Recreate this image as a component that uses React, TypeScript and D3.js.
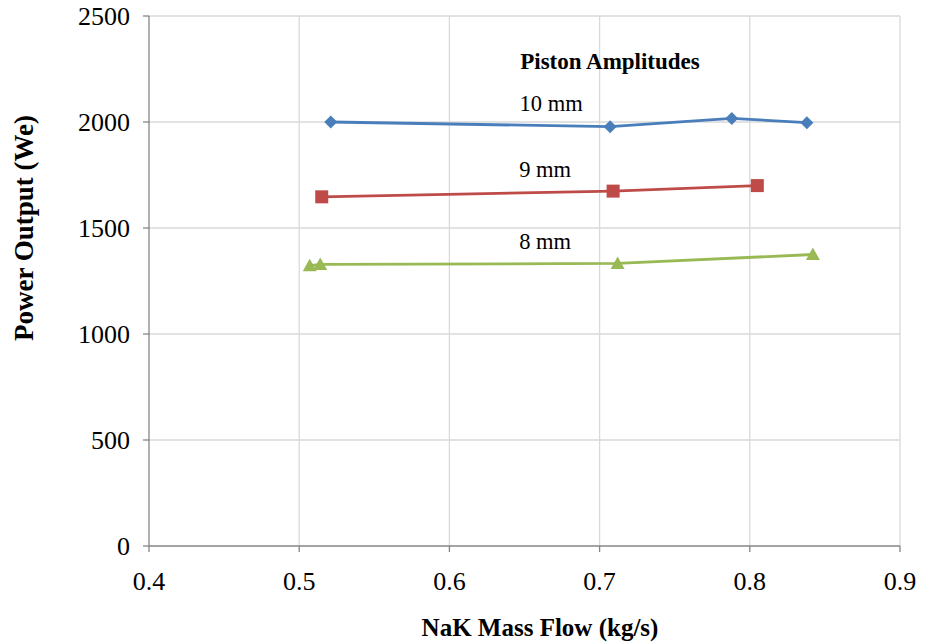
import React from "react";
import * as d3 from "d3";

const xTicks = [0.4, 0.5, 0.6, 0.7, 0.8, 0.9];
const yTicks = [0, 500, 1000, 1500, 2000, 2500];

const flow10 = [0.521, 0.707, 0.788, 0.838];
const power10 = [2000, 1978, 2017, 1997];
const flow9 = [0.515, 0.709, 0.805];
const power9 = [1647, 1674, 1700];
const flow8 = [0.507, 0.514, 0.712, 0.842];
const power8 = [1322, 1328, 1333, 1375];

const seriesNames = ["10 mm", "9 mm", "8 mm"];
const legendTitle = "Piston Amplitudes";

const W = 925, H = 644;
const L = 149, R = 900, T = 16, B = 546;

export default function App() {
  const x = d3.scaleLinear().domain([0.4, 0.9]).range([L, R]);
  const y = d3.scaleLinear().domain([0, 2500]).range([B, T]);
  const line = d3.line<[number, number]>().x(d => x(d[0])).y(d => y(d[1]));

  const series = [
    { name: seriesNames[0], xs: flow10, ys: power10, color: "#4a7ebb", shape: "diamond", lx: 0.6677, ly: 2052 },
    { name: seriesNames[1], xs: flow9, ys: power9, color: "#be4b48", shape: "square", lx: 0.6637, ly: 1741 },
    { name: seriesNames[2], xs: flow8, ys: power8, color: "#98b954", shape: "triangle", lx: 0.6637, ly: 1401 },
  ];

  const fs = { fontFamily: "'Liberation Serif', 'Times New Roman', Times, serif" };

  const marker = (shape: string, cx: number, cy: number, color: string, key: number) => {
    if (shape === "diamond") {
      const s = 6.5;
      return <path key={key} d={`M${cx},${cy - s}L${cx + s},${cy}L${cx},${cy + s}L${cx - s},${cy}Z`} fill={color} />;
    }
    if (shape === "square") {
      const s = 6.5;
      return <rect key={key} x={cx - s} y={cy - s} width={2 * s} height={2 * s} fill={color} />;
    }
    const s = 7;
    return <path key={key} d={`M${cx},${cy - s}L${cx + s},${cy + s * 0.8}L${cx - s},${cy + s * 0.8}Z`} fill={color} />;
  };

  return (
    <svg width={W} height={H} style={{ position: "absolute", left: 0, top: 0, background: "#fff" }}>
      <rect width={W} height={H} fill="#fff" />
      {xTicks.slice(1).map(t => (
        <line key={"gx" + t} x1={x(t)} x2={x(t)} y1={T} y2={B} stroke="#d9d9d9" strokeWidth={1.3} />
      ))}
      {yTicks.slice(1).map(t => (
        <line key={"gy" + t} x1={L} x2={R} y1={y(t)} y2={y(t)} stroke="#d9d9d9" strokeWidth={1.3} />
      ))}
      <line x1={L} x2={L} y1={T} y2={B} stroke="#868686" strokeWidth={1.3} />
      <line x1={L} x2={R} y1={B} y2={B} stroke="#868686" strokeWidth={1.3} />
      {xTicks.map(t => (
        <line key={"tx" + t} x1={x(t)} x2={x(t)} y1={B} y2={B + 6} stroke="#868686" strokeWidth={1.3} />
      ))}
      {yTicks.map(t => (
        <line key={"ty" + t} x1={L - 6} x2={L} y1={y(t)} y2={y(t)} stroke="#868686" strokeWidth={1.3} />
      ))}
      {xTicks.map(t => (
        <text key={"lx" + t} x={x(t)} y={B + 44} textAnchor="middle" style={fs} fontSize={26} fill="#000">
          {d3.format(".1f")(t)}
        </text>
      ))}
      {yTicks.map(t => (
        <text key={"ly" + t} x={L - 19} y={y(t) + 9} textAnchor="end" style={fs} fontSize={26} fill="#000">
          {t}
        </text>
      ))}
      <text x={540} y={636} textAnchor="middle" style={fs} fontSize={25} fontWeight="bold">
        NaK Mass Flow (kg/s)
      </text>
      <text transform={`translate(33,228) rotate(-90)`} textAnchor="middle" style={fs} fontSize={27} fontWeight="bold">
        Power Output (We)
      </text>
      {series.map((s, i) => {
        const pts: [number, number][] = s.xs.map((v, j) => [v, s.ys[j]]);
        return (
          <g key={i}>
            <path d={line(pts) || ""} fill="none" stroke={s.color} strokeWidth={2.8} />
            {pts.map((p, j) => marker(s.shape, x(p[0]), y(p[1]), s.color, j))}
            <text x={x(s.lx)} y={y(s.ly)} textAnchor="middle" style={fs} fontSize={22.5} fill="#000">
              {s.name}
            </text>
          </g>
        );
      })}
      <text x={610} y={69} textAnchor="middle" style={fs} fontSize={23} fontWeight="bold">
        {legendTitle}
      </text>
    </svg>
  );
}
